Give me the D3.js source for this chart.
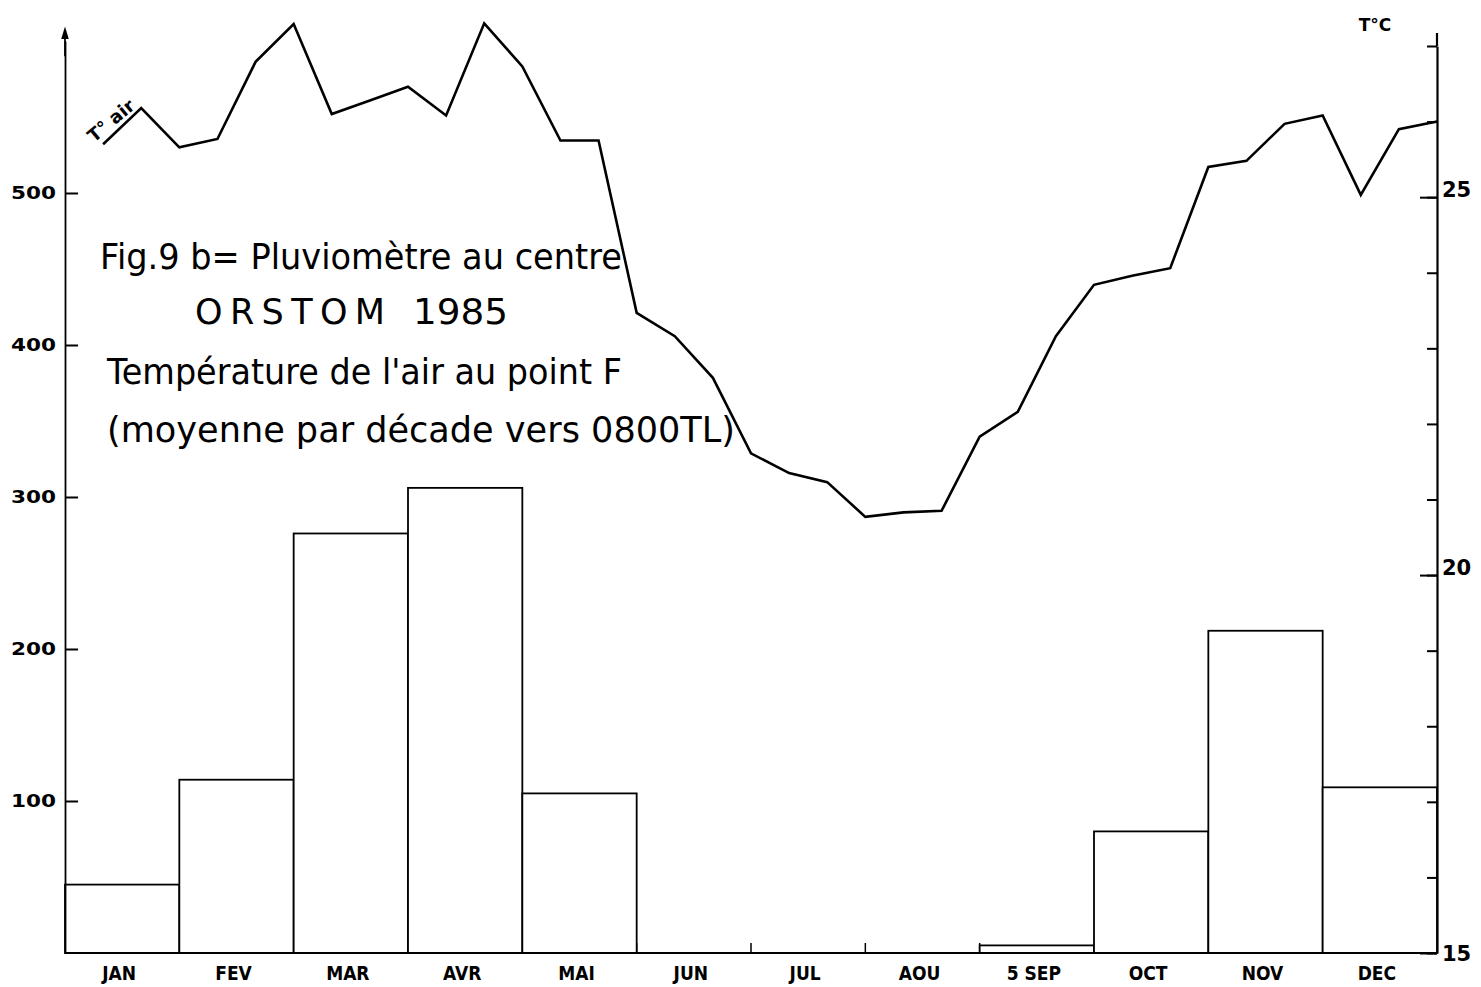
<!DOCTYPE html>
<html>
<head>
<meta charset="utf-8">
<script src="https://cdn.jsdelivr.net/npm/d3@7"></script>
<style>
  html, body { margin: 0; padding: 0; background: #fff; }
  svg { display: block; }
</style>
</head>
<body>
<svg id="chart" width="1481" height="987"></svg>
<script>
// ---- Data ----
const months = ["JAN","FEV","MAR","AVR","MAI","JUN","JUL","AOU","SEP","OCT","NOV","DEC"];
const monthLabels = ["JAN","FEV","MAR","AVR","MAI","JUN","JUL","AOU","5 SEP","OCT","NOV","DEC"];
// monthly rainfall (mm)
const rainfall = [45, 114, 276, 306, 105, 0, 0, 0, 5, 80, 212, 109];
// air temperature, mean per decade (10-day period) at ~0800 TL, deg C
const tempDecades = [
  25.7, 26.18, 25.66,   // JAN
  25.77, 26.79, 27.29,  // FEV
  26.10, 26.28, 26.46,  // MAR
  26.08, 27.30, 26.73,  // AVR
  25.75, 25.75, 23.47,  // MAI
  23.16, 22.61, 21.61,  // JUN
  21.35, 21.23, 20.77,  // JUL
  20.83, 20.85, 21.83,  // AOU
  22.16, 23.16, 23.84,  // SEP
  23.96, 24.06, 25.40,  // OCT
  25.48, 25.97, 26.08,  // NOV
  25.03, 25.90, 26.00   // DEC
];
const rainTicks = [100, 200, 300, 400, 500];
const tempMajorTicks = [15, 20, 25];
const tempMinorTicks = [15,16,17,18,19,20,21,22,23,24,25,26,27];
const titleLines = [
  "Fig.9 b= Pluviomètre au centre",
  "ORSTOM",
  "1985",
  "Température de l'air au point F",
  "(moyenne par décade vers 0800TL)"
];

// ---- Layout ----
const svg = d3.select("#chart");
const X0 = 65, X1 = 1437, Y0 = 953;
const x = d3.scaleBand().domain(months).range([X0, X1]).padding(0);
const xDec = d3.scaleLinear().domain([0, tempDecades.length]).range([X0, X1]);
const yRain = d3.scaleLinear().domain([0, 600]).range([Y0, 41]);
const yTemp = d3.scaleLinear().domain([15, 27]).range([Y0, 46]);

const boldFont = "'DejaVu Sans', sans-serif";

// arrow marker
svg.append("defs").append("marker")
  .attr("id", "arrow").attr("viewBox", "0 0 10 10")
  .attr("refX", 5).attr("refY", 10)
  .attr("markerWidth", 7).attr("markerHeight", 12)
  .attr("orient", "0")
  .append("path").attr("d", "M2,10 L5,0 L8,10 Z").attr("fill", "#000");

// month boundary ticks (visible where there is no bar)
svg.append("g").selectAll("line")
  .data(months.slice(1))
  .join("line")
  .attr("x1", d => x(d)).attr("x2", d => x(d))
  .attr("y1", Y0).attr("y2", Y0 - 10)
  .attr("stroke", "#000").attr("stroke-width", 1.5);

// bars
svg.append("g").selectAll("rect")
  .data(months.map((m, i) => ({m, v: rainfall[i]})).filter(d => d.v > 0))
  .join("rect")
  .attr("x", d => x(d.m))
  .attr("y", d => yRain(d.v))
  .attr("width", x.bandwidth())
  .attr("height", d => Y0 - yRain(d.v))
  .attr("fill", "#fff")
  .attr("stroke", "#000")
  .attr("stroke-width", 1.8);

// baseline
svg.append("line")
  .attr("x1", X0).attr("x2", X1).attr("y1", Y0).attr("y2", Y0)
  .attr("stroke", "#000").attr("stroke-width", 2);

// left axis
const leftAxis = svg.append("g").attr("transform", `translate(${X0},0)`)
  .call(d3.axisLeft(yRain).tickValues(rainTicks).tickSize(-13).tickSizeOuter(0).tickPadding(9));
leftAxis.select(".domain").attr("stroke-width", 1.8);
leftAxis.selectAll(".tick line").attr("stroke-width", 2);
leftAxis.selectAll(".tick text")
  .attr("font-family", boldFont).attr("font-weight", "bold").attr("font-size", 17)
  .attr("textLength", 45).attr("lengthAdjust", "spacingAndGlyphs")
  .attr("dy", "0.35em");
// arrow head on left axis
svg.append("line")
  .attr("x1", X0).attr("x2", X0).attr("y1", yRain(590)).attr("y2", yRain(600) - 2)
  .attr("stroke", "#000").attr("stroke-width", 1.8)
  .attr("marker-end", "url(#arrow)");

// right axis: minor ticks
const rightMinor = svg.append("g").attr("transform", `translate(${X1},0)`)
  .call(d3.axisRight(yTemp).tickValues(tempMinorTicks).tickSize(-10).tickSizeOuter(0).tickFormat(""));
rightMinor.select(".domain").attr("stroke-width", 2.2);
rightMinor.selectAll(".tick line").attr("stroke-width", 2);
// right axis: major ticks with labels
const rightMajor = svg.append("g").attr("transform", `translate(${X1},0)`)
  .call(d3.axisRight(yTemp).tickValues(tempMajorTicks).tickSize(-17).tickSizeOuter(0).tickPadding(5).tickFormat(d3.format("d")));
rightMajor.select(".domain").remove();
rightMajor.selectAll(".tick line").attr("stroke-width", 2);
rightMajor.selectAll(".tick text")
  .attr("font-family", boldFont).attr("font-weight", "bold").attr("font-size", 21)
  .attr("dy", d => d === 15 ? "0.35em" : "-0.05em");
// extend right axis top
svg.append("line")
  .attr("x1", X1).attr("x2", X1).attr("y1", yTemp(27)).attr("y2", 33)
  .attr("stroke", "#000").attr("stroke-width", 2.2);
svg.append("text")
  .attr("x", 1375).attr("y", 31)
  .attr("text-anchor", "middle")
  .attr("font-family", boldFont).attr("font-weight", "bold").attr("font-size", 17)
  .text("T°C");

// month labels
svg.append("g").selectAll("text")
  .data(months)
  .join("text")
  .attr("x", d => x(d) + x.bandwidth() / 2 - 3)
  .attr("y", 980)
  .attr("text-anchor", "middle")
  .attr("font-family", boldFont).attr("font-weight", "bold").attr("font-size", 19)
  .attr("transform-origin", d => `${x(d) + x.bandwidth() / 2 - 3} 980`)
  .style("transform", "scaleX(0.9)")
  .text((d, i) => monthLabels[i]);

// temperature line
const line = d3.line()
  .x((d, i) => xDec(i + 1))
  .y(d => yTemp(d));
svg.append("path")
  .datum(tempDecades)
  .attr("d", line)
  .attr("fill", "none")
  .attr("stroke", "#000")
  .attr("stroke-width", 2.6)
  .attr("stroke-linejoin", "miter");

// "T° air" label
svg.append("text")
  .attr("transform", "translate(94,143) rotate(-40)")
  .attr("font-family", boldFont).attr("font-weight", "bold").attr("font-size", 18)
  .text("T° air");

// title block
const titleFont = "'DejaVu Sans', sans-serif";
const titleSpecs = [
  {x: 100, y: 269, len: 522, size: 35, adj: "spacingAndGlyphs"},
  {x: 195, y: 324, len: 190, size: 35, adj: "spacing"},
  {x: 413, y: 324, len: 95, size: 35, adj: "spacingAndGlyphs"},
  {x: 107, y: 384, len: 515, size: 35, adj: "spacingAndGlyphs"},
  {x: 107, y: 442, len: 628, size: 35, adj: "spacingAndGlyphs"}
];
svg.append("g").selectAll("text")
  .data(titleLines)
  .join("text")
  .attr("x", (d, i) => titleSpecs[i].x)
  .attr("y", (d, i) => titleSpecs[i].y)
  .attr("font-family", titleFont)
  .attr("font-size", (d, i) => titleSpecs[i].size)
  .attr("textLength", (d, i) => titleSpecs[i].len)
  .attr("lengthAdjust", (d, i) => titleSpecs[i].adj)
  .attr("fill", "#000")
  .text(d => d);
</script>
</body>
</html>
